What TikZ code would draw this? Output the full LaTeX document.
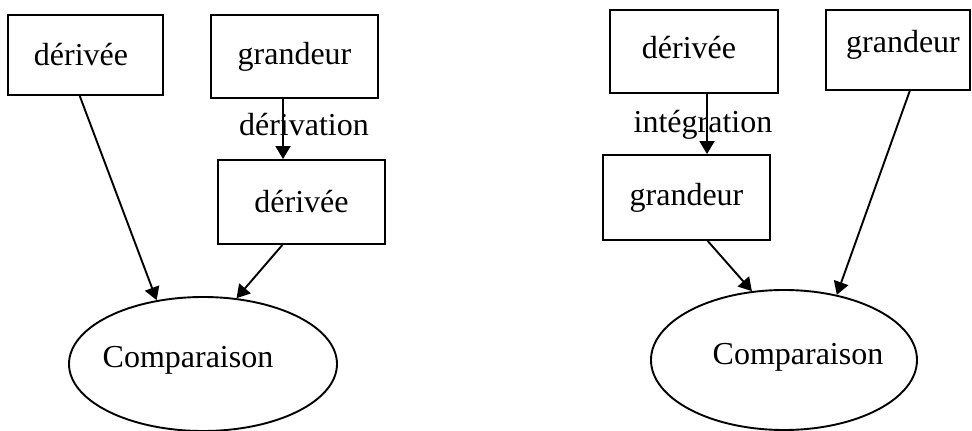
\documentclass[tikz,border=0pt]{standalone}
\usepackage{fontspec}
\setmainfont{Liberation Serif}
\usetikzlibrary{arrows.meta,shapes.geometric,calc}
\tikzset{
  box/.style={draw, line width=1.9pt, inner sep=0pt, minimum width=#1},
  lbl/.style={inner sep=0pt},
  oval/.style={draw, ellipse, line width=1.9pt, inner sep=0pt},
  link/.style={line width=1.9pt, -{Triangle[length=13pt,width=15pt]}},
}
\begin{document}
\begin{tikzpicture}[x=1pt,y=-1pt,font=\fontsize{32}{38}\selectfont]
\useasboundingbox (0,0) rectangle (972,431);

% left scheme: derivative compared after differentiating the quantity
\node[box=155pt, minimum height=80pt] (A) at (85.5,55) {};
\node[lbl] at (81,55) {dérivée};
\node[box=167pt, minimum height=83pt] (B) at (294.5,56.5) {grandeur};
\node[box=167pt, minimum height=84pt] (C) at (301.5,202) {dérivée};
\node[oval, minimum width=268pt, minimum height=134pt,
      label={[lbl,xshift=-15pt,yshift=4pt]center:Comparaison}] (L) at (203,364) {};
\node[lbl] (dlab) at (304,125) {dérivation};

\coordinate (bout) at ($(B.south)+(-11.5,0)$);
\draw[link] (bout) -- (bout |- C.north);
\draw[link] (A.262) -- (L.126);
\draw[link] (C.246) -- (L.63);

% right scheme: quantity compared after integrating the derivative
\node[box=168pt, minimum height=83pt] (D) at (694,51.5) {};
\node[lbl] at (689,48) {dérivée};
\node[box=144pt, minimum height=80pt] (E) at (898,50) {};
\node[lbl] at (903,45) {grandeur};
\node[box=167pt, minimum height=85pt] (F) at (686.5,197.5) {grandeur};
\node[oval, minimum width=266pt, minimum height=140pt,
      label={[lbl,xshift=14pt,yshift=3pt]center:Comparaison}] (R) at (784,360) {};
\node[lbl] (ilab) at (703,125) {intégration};

\coordinate (dout) at ($(D.south)+(13,0)$);
\draw[link] (dout) -- (dout |- F.north);
\draw[link] (F.296) -- (R.115.5);
\draw[link] (E.286.7) -- (R.51.9);
\end{tikzpicture}
\end{document}
